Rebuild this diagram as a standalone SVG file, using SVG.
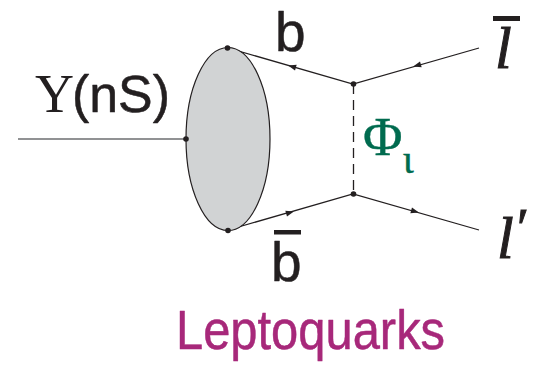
<svg xmlns="http://www.w3.org/2000/svg" width="535" height="365" viewBox="0 0 535 365">
<style>
.l{stroke:#231f20;stroke-width:1.3;fill:none}
.c{font-family:"Liberation Sans",Arial,sans-serif;fill:#231f20;stroke:#231f20;stroke-width:0.5;stroke-linejoin:round}
.s{font-family:"Liberation Serif",serif;fill:#231f20}
.i{font-style:italic;stroke:#231f20;stroke-width:1}
</style>
<defs><polygon id="ah" points="4,0 -4,-3 -4,3" fill="#231f20"/><circle id="dot" r="2.800" fill="#231f20"/></defs>
<g id="connectors">
<line class="l" x1="18" y1="139" x2="186" y2="139" style="stroke:#6d6e71"/>
<path class="l" d="M228 48L353 84L479 48"/>
<path class="l" d="M228 230L353 194L479 230"/>
<line class="l" x1="353.500" y1="84" x2="353.500" y2="194" stroke-dasharray="10 6"/>
<use href="#ah" transform="translate(292,66.500) rotate(196)"/>
<use href="#ah" transform="translate(417,65.500) rotate(164)"/>
<use href="#ah" transform="translate(290,212.500) rotate(-16)"/>
<use href="#ah" transform="translate(415,211.500) rotate(16)"/>
</g>
<g id="blob"><ellipse cx="228" cy="139" rx="42" ry="91.500" fill="#d1d3d4" stroke="#231f20" stroke-width="1.200"/></g>
<g id="vertices">
<use href="#dot" x="186" y="139"/><use href="#dot" x="227.500" y="48"/><use href="#dot" x="228" y="230.500"/>
<use href="#dot" x="353.500" y="84"/><use href="#dot" x="353.500" y="194"/>
</g>
<g id="label-upsilon"><text class="s" x="35" y="112" font-size="54">Y</text><text class="c" x="72" y="112" font-size="52" textLength="98" lengthAdjust="spacingAndGlyphs">(nS)</text></g>
<g id="label-b"><text class="c" x="275" y="51" font-size="55">b</text></g>
<g id="label-bbar"><rect x="274" y="230" width="27" height="4.500" fill="#231f20"/><text class="c" x="271" y="281" font-size="55">b</text></g>
<g id="label-lbar"><rect x="493" y="16" width="27" height="5" fill="#231f20"/><text class="s i" x="495" y="68" font-size="60">l</text></g>
<g id="label-lprime"><text class="s i" x="497" y="258" font-size="60">l<tspan font-size="54" dy="-12">′</tspan></text></g>
<g id="label-phi"><text x="363" y="155" font-family="Liberation Serif,serif" font-size="54" fill="#006b4f" stroke="#006b4f" stroke-width="0.400">Φ<tspan font-size="42" dy="18" stroke-width="0.300">ι</tspan></text></g>
<g id="label-leptoquarks"><text x="176" y="349" font-family="Liberation Sans,sans-serif" font-size="56" fill="#a7287a" stroke="#a7287a" stroke-width="0.500" stroke-linejoin="round" textLength="269" lengthAdjust="spacingAndGlyphs">Leptoquarks</text></g>
</svg>
